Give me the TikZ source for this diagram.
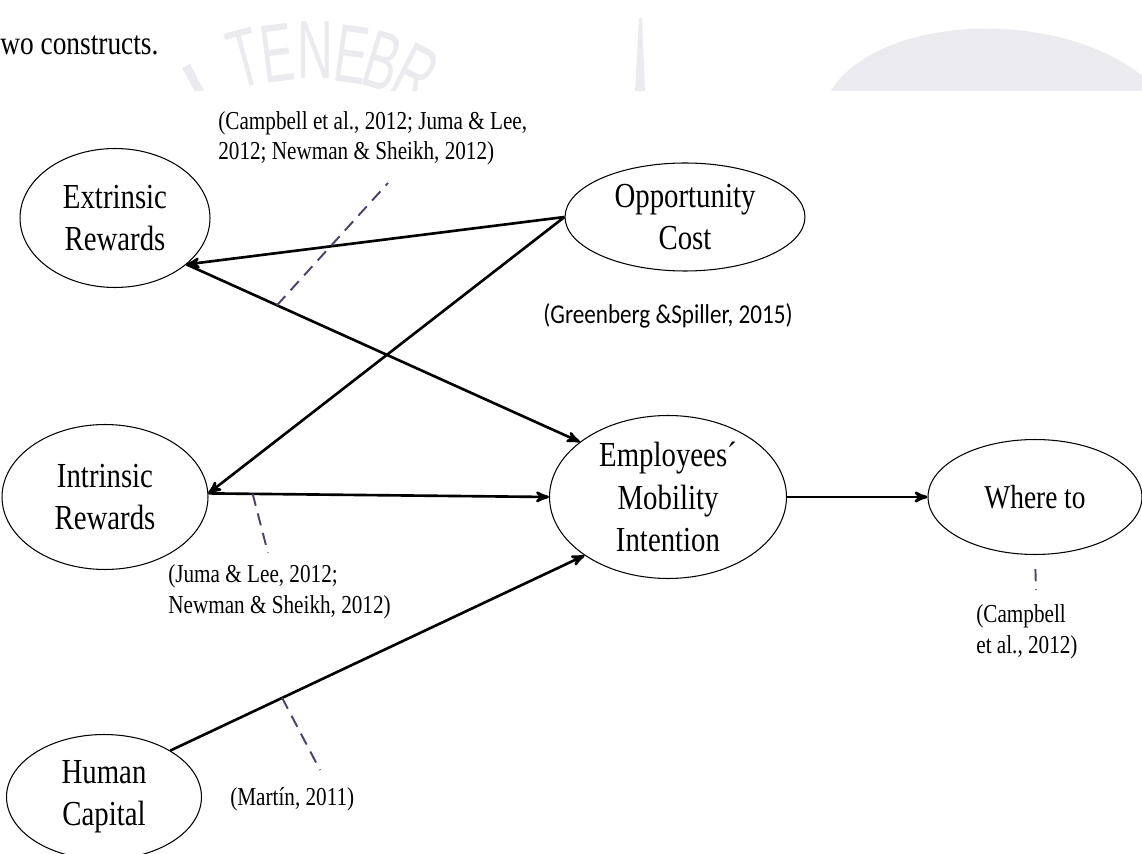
\documentclass[tikz,border=0pt]{standalone}
\usepackage{fontspec}
\setmainfont{Liberation Serif}[FakeStretch=0.82]
\newfontfamily\citesans{Carlito}[FakeStretch=0.85]
\newfontfamily\wmfont{Liberation Sans}[FakeStretch=0.6]
\usetikzlibrary{arrows,shapes.geometric}
\definecolor{refpurple}{RGB}{78,64,104}
\definecolor{wmgray}{RGB}{235,235,239}

\begin{document}
\begin{tikzpicture}[x=0.02cm,y=-0.02cm,
        construct/.style={draw, ellipse, line width=0.6pt, inner sep=0pt, align=center, font=\fontsize{20}{24}\selectfont},
        cite/.style={align=left, inner sep=0pt, font=\fontsize{14.7}{17.6}\selectfont},
        link/.style={line width=1.5pt, ->, >=stealth'},
        refline/.style={line width=1.1pt, refpurple, dash pattern=on 7pt off 4.5pt},
        wmletter/.style={wmgray, anchor=north, inner sep=0pt, font=\wmfont\fontsize{47}{47}\selectfont}]
            \useasboundingbox (0,0) rectangle (1142,854);
            \begin{scope}
                \clip (0,0) rectangle (1142,91);
                \fill [wmgray] (830,92) .. controls (880,10) and (1080,5) .. (1160,92) -- cycle;
                \fill [wmgray] (639,18) -- (642,18) -- (645,92) -- (635,92) -- cycle;
                \draw [wmgray, line width=5pt] (186,66) -- (200,92);
                \node [wmletter, rotate=15] (wmT) at (237,30) {T};
                \node [wmletter, rotate=7] (wmE) at (274,25) {E};
                \node [wmletter, rotate=0] (wmN) at (315,21) {N};
                \node [wmletter, rotate=-8] (wmEE) at (356,26) {E};
                \node [wmletter, rotate=-17] (wmB) at (391,34) {B};
                \node [wmletter, rotate=-27] (wmR) at (428,49) {R};
            \end{scope}
            \node [anchor=base west, inner sep=0pt, font=\fontsize{19}{22}\selectfont] (heading) at (0,55) {wo constructs.};

            \node [construct, minimum width=3.8cm, minimum height=2.78cm] (extr) at (115,218) {Extrinsic\\Rewards};
            \node [construct, minimum width=4.8cm, minimum height=2.16cm] (opp) at (685,217) {Opportunity\\Cost};
            \node [construct, minimum width=4.12cm, minimum height=2.9cm] (intr) at (105,497) {Intrinsic\\Rewards};
            \node [construct, minimum width=4.74cm, minimum height=3.26cm] (emp) at (668,497) {Employees´\\Mobility\\Intention};
            \node [construct, minimum width=4.28cm, minimum height=2.3cm, font=\fontsize{19}{22}\selectfont] (where) at (1035,497) {Where to};
            \node [construct, minimum width=3.9cm, minimum height=2.5cm] (hum) at (104,797) {Human\\Capital};

            \draw [link] (opp.west) -- (extr.-33);
            \draw [link] (opp.west) -- (intr.2);
            \draw [link] (extr.-33) -- coordinate[pos=0.23] (extrmid) (emp.148);
            \draw [link] (intr.2) -- coordinate[pos=0.13] (intrmid) (emp.west);
            \draw [link] (hum.35) -- coordinate[pos=0.27] (hummid) (emp.215);
            \draw [link] (emp.east) -- (where.west);

            \node [cite, anchor=base west] (citeextr) at (218,160) {(Campbell et al., 2012; Juma \& Lee,\\2012; Newman \& Sheikh, 2012)};
            \node [cite, anchor=base, font=\citesans\fontsize{15.5}{18}\selectfont] (citeopp) at (668,324) {(Greenberg \&Spiller, 2015)};
            \node [cite, anchor=base west] (citeintr) at (168,613) {(Juma \& Lee, 2012;\\Newman \& Sheikh, 2012)};
            \node [cite, anchor=base west] (citehum) at (230,805) {(Martín, 2011)};
            \node [cite, anchor=base west] (citewhere) at (976,653) {(Campbell\\ et al., 2012)};

            \coordinate (extrend) at (388,183);
            \coordinate (intrend) at (268,553);
            \coordinate (humend) at (320,770);
            \coordinate (whereend) at (1036,590);
            \draw [refline] (extrmid) -- (extrend);
            \draw [refline] (intrmid) -- (intrend);
            \draw [refline] (hummid) -- (humend);
            \draw [refline, shorten <=8pt] (where.south) -- (whereend);
        \end{tikzpicture}
\end{document}
